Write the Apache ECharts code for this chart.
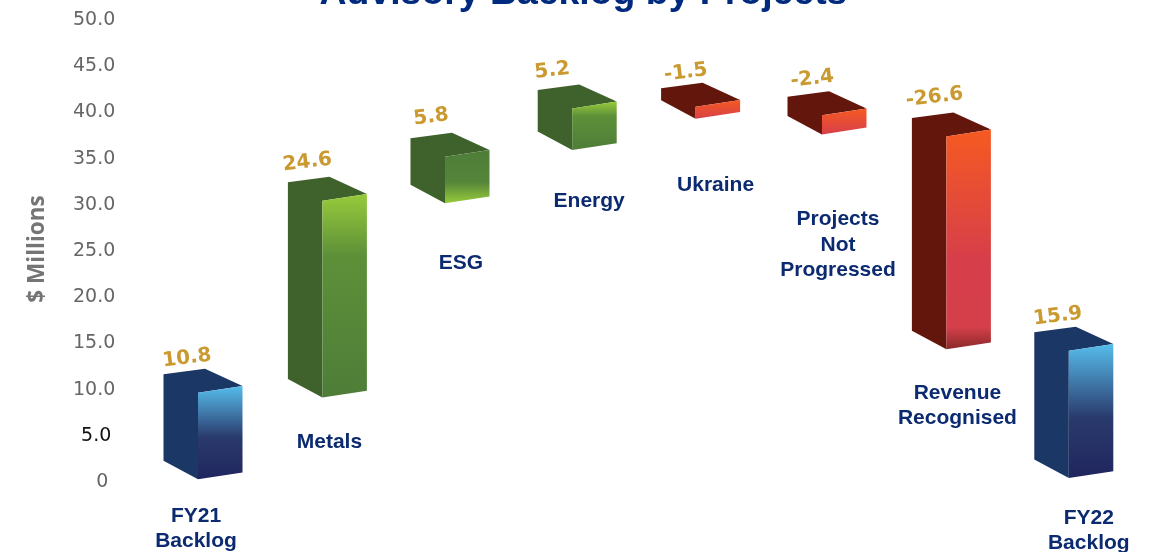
<!DOCTYPE html>
<html><head><meta charset="utf-8">
<style>html,body{margin:0;padding:0;background:#fff}#c{width:1153px;height:552px}</style>
<script src="https://cdn.jsdelivr.net/npm/echarts@6/dist/echarts.min.js"></script>
</head><body><div id="c"></div>
<script>
// data
const categories = ['FY21\nBacklog','Metals','ESG','Energy','Ukraine','Projects\nNot\nProgressed','Revenue\nRecognised','FY22\nBacklog'];
const values = [10.8, 24.6, 5.8, 5.2, -1.5, -2.4, -26.6, 15.9];
const barStart = [0.1, 10.3, 34.6, 41.25, 46.65, 45.6, 42.95, 0.25];
const valueLabels = ['10.8','24.6','5.8','5.2','-1.5','-2.4','-26.6','15.9'];
const yTickLabels = ['0','5.0','10.0','15.0','20.0','25.0','30.0','35.0','40.0','45.0','50.0'];

// layout and style, separate from the data
const tones = ['blue','green','greenRev','green','redShort','redShort','redLong','blue'];
const barNudge = [0,0,-1.8,1,0,2,2,0];
const labelOffset = [[-2,37],[7,45],[16,60],[17,51],[20,66],[16,85],[11,44],[20,40]];
const valueOffset = [[-1,-13],[-5,-17],[3,-19],[-3,-17],[3,-13],[3,-15],[-6,-17],[-1,-13]];
const F = {
  blue:{side:'#1B3766',stops:[[0,'#56BDEC'],[.55,'#2A3A6C'],[1,'#20265E']]},
  green:{side:'#3F612B',stops:[[0,'#97CB3A'],[.3,'#5E9039'],[1,'#4E7D38']]},
  greenRev:{side:'#3F612B',stops:[[0,'#4E7D38'],[.6,'#55853A'],[1,'#97CB3A']]},
  redShort:{side:'#63160C',stops:[[0,'#F55A22'],[1,'#D83F4A']]},
  redLong:{side:'#63160C',stops:[[0,'#F55A22'],[.6,'#D63E4A'],[.9,'#D43F4A'],[1,'#8A2A2A']]}
};
const grad = s => ({type:'linear',x:0,y:0,x2:0,y2:1,colorStops:s.map(p=>({offset:p[0],color:p[1]}))});

function renderItem(params, api){
  const i = api.value(0), start = api.value(1), v = api.value(2), end = start + v;
  const hi = Math.max(start,end), lo = Math.min(start,end);
  const pTop = api.coord([i,hi]), pLow = api.coord([i,lo]);
  const fx = pTop[0]-4.5+barNudge[i], ty = pTop[1], by = pLow[1];
  const W=44.5, DX=34.5, DY=18.5, RY=6.8;
  const t = F[tones[i]];
  const L = fx-DX, R = fx+W;
  const poly = (pts,fill)=>({type:'polygon',shape:{points:pts},style:{fill:fill}});
  const lo1 = labelOffset[i], vo = valueOffset[i];
  return {type:'group',children:[
    poly([[L,ty-DY],[L+W-3,ty-DY-5.5],[R,ty-RY],[fx,ty],[fx,by],[L,by-DY]],t.side),
    poly([[fx,ty],[R,ty-RY],[R,by-RY],[fx,by]],grad(t.stops)),
    {type:'text',x:fx+lo1[0],y:by+lo1[1]-12.75,style:{text:categories[i],align:'center',verticalAlign:'top',
      fontFamily:'Liberation Sans',fontWeight:'bold',fontSize:21,fill:'#0B2A6F',lineHeight:25.5}},
    {type:'text',x:L+vo[0],y:ty-DY+vo[1],rotation:7*Math.PI/180,style:{text:valueLabels[i],align:'left',verticalAlign:'middle',
      fontFamily:'DejaVu Sans',fontWeight:'bold',fontSize:20,fill:'#CA9A30'}}
  ]};
}

const chart = echarts.init(document.getElementById('c'),null,{renderer:'canvas'});
chart.setOption({
  animation:false,
  backgroundColor:'#fff',
  title:{text:'Advisory Backlog by Projects',left:578.5,textAlign:'center',top:-30,
    textStyle:{fontFamily:'Liberation Sans',fontWeight:'bold',fontSize:37.4,color:'#002A7E'}},
  grid:{left:140.3,right:17.5,top:18,bottom:72},
  xAxis:{type:'category',data:categories,show:false},
  yAxis:[
    {type:'value',min:0,max:50,interval:5,
     name:'$ Millions',nameLocation:'middle',nameGap:91,
     nameTextStyle:{fontFamily:'Open Sans',fontWeight:'bold',fontSize:22.5,color:'#757575'},
     axisLine:{show:false},axisTick:{show:false},splitLine:{show:false},
     axisLabel:{margin:25,formatter:(val,idx)=>{
        const s=yTickLabels[idx];
        return s==='5.0'?'{k|'+s+'}':s==='0'?'{z|'+s+'}':'{g|'+s+'}';},
       rich:{
        g:{fontFamily:'DejaVu Sans',fontSize:19,color:'#666',padding:[4,0,0,0]},
        k:{fontFamily:'DejaVu Sans',fontSize:19,color:'#111',padding:[4,4,0,0]},
        z:{fontFamily:'DejaVu Sans',fontSize:19,color:'#666',padding:[4,7,0,0]}}}},
    {type:'value',min:0,max:57.75,show:false,splitLine:{show:false}}
  ],
  series:[{type:'custom',xAxisIndex:0,yAxisIndex:1,renderItem:renderItem,clip:false,silent:true,
    encode:{x:0,y:1},
    data:values.map((v,i)=>[i,barStart[i],v])}]
});
</script></body></html>
